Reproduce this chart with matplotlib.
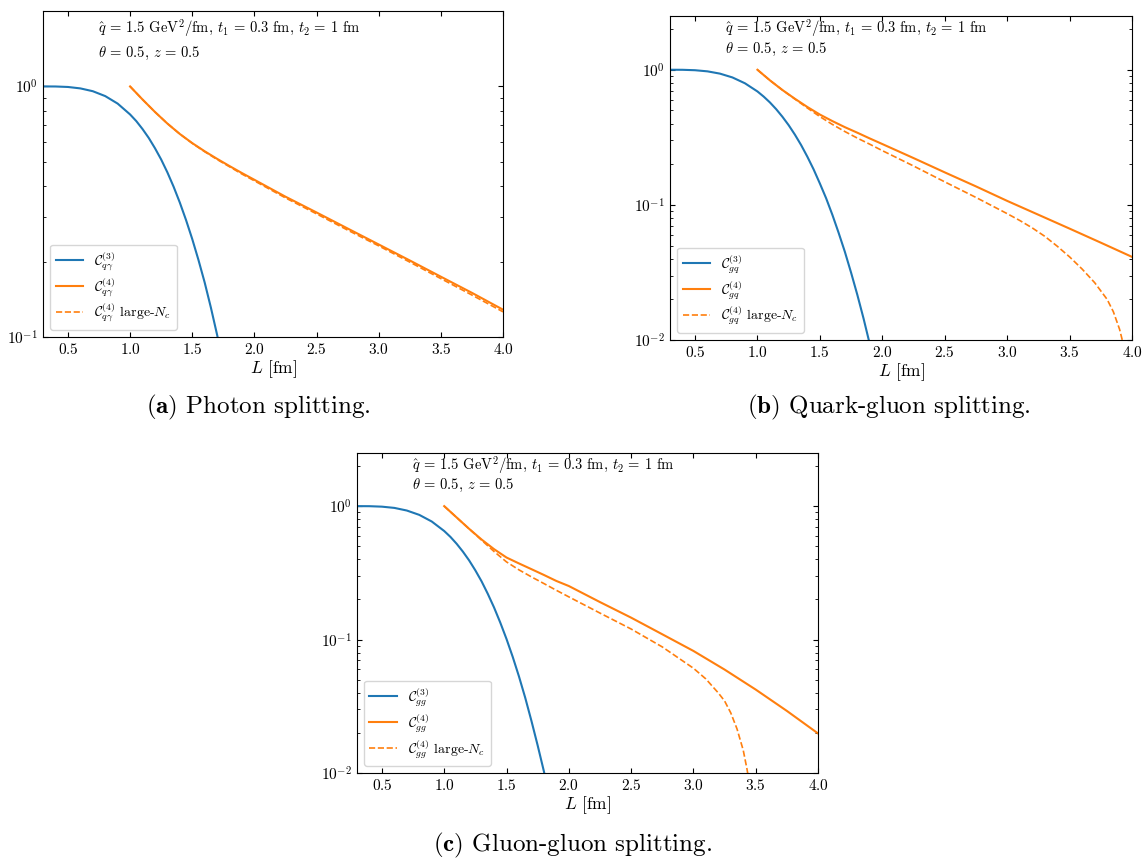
import numpy as np
import matplotlib
matplotlib.use("Agg")
import matplotlib.pyplot as plt
from matplotlib.ticker import LogLocator

plt.rcParams["font.family"] = "serif"
plt.rcParams["font.serif"] = ["cmr10"]
plt.rcParams["mathtext.fontset"] = "cm"
plt.rcParams["axes.formatter.use_mathtext"] = True
plt.rcParams["axes.unicode_minus"] = False

# --- three-point correlator C^(3) (blue) ---
L3 = [0.3, 0.4, 0.5, 0.6, 0.7, 0.8, 0.9, 1.0, 1.05, 1.1, 1.15, 1.2, 1.25, 1.3, 1.35,
      1.4, 1.45, 1.5, 1.55, 1.6, 1.65, 1.7, 1.75, 1.8, 1.85, 1.9]
C3_qgam = [1.0, 0.9994, 0.995, 0.982, 0.957, 0.915, 0.854, 0.773, 0.727, 0.676, 0.623,
           0.567, 0.511, 0.454, 0.398, 0.344, 0.293, 0.246, 0.203, 0.165, 0.131,
           0.102, 0.0783, 0.0588, 0.043, 0.031]
C3_gq = [1.0, 0.9991, 0.992, 0.973, 0.936, 0.877, 0.794, 0.691, 0.633, 0.573, 0.511,
         0.449, 0.389, 0.331, 0.277, 0.227, 0.183, 0.144, 0.112, 0.0845, 0.0622,
         0.045, 0.0315, 0.0216, 0.0144, 0.0093]
C3_gg = [1.0, 0.999, 0.991, 0.970, 0.927, 0.860, 0.767, 0.651, 0.588, 0.522, 0.456,
         0.392, 0.330, 0.273, 0.220, 0.174, 0.134, 0.101, 0.0741, 0.0529, 0.0367,
         0.0246, 0.0161, 0.0103, 0.0062, 0.0037]

# --- four-point correlator C^(4) (orange solid) ---
L4 = [1.0, 1.1, 1.2, 1.3, 1.4, 1.5, 1.6, 1.7, 1.8, 1.9, 2.0,
      2.25, 2.5, 2.75, 3.0, 3.25, 3.5, 3.75, 4.0]
C4_qgam = [1.0, 0.887, 0.791, 0.711, 0.646, 0.594, 0.551, 0.514, 0.481, 0.451, 0.424,
           0.363, 0.314, 0.271, 0.234, 0.202, 0.174, 0.150, 0.1285]
C4_gq = [1.0, 0.835, 0.708, 0.610, 0.530, 0.466, 0.417, 0.376, 0.342, 0.310, 0.282,
         0.222, 0.174, 0.137, 0.107, 0.0845, 0.0667, 0.0525, 0.0412]
C4_gg = [1.0, 0.822, 0.676, 0.562, 0.476, 0.412, 0.372, 0.337, 0.305, 0.275, 0.252,
         0.191, 0.146, 0.1096, 0.0822, 0.0596, 0.0422, 0.0292, 0.0198]

# --- large-Nc approximation (orange dashed) ---
LN_qgam = L4
CN_qgam = [1.0, 0.887, 0.791, 0.711, 0.646, 0.593, 0.549, 0.511, 0.478, 0.447, 0.420,
           0.359, 0.310, 0.267, 0.231, 0.199, 0.171, 0.147, 0.126]
LN_gq = [1.0, 1.1, 1.2, 1.3, 1.4, 1.5, 1.6, 1.7, 1.8, 1.9, 2.0, 2.25, 2.5, 2.75,
         3.0, 3.1, 3.2, 3.3, 3.4, 3.5, 3.6, 3.7, 3.8, 3.85, 3.9, 3.93]
CN_gq = [1.0, 0.835, 0.708, 0.607, 0.521, 0.450, 0.394, 0.349, 0.312, 0.281, 0.252,
         0.194, 0.148, 0.1135, 0.0861, 0.0767, 0.0676, 0.0586, 0.0495, 0.0412,
         0.0335, 0.0266, 0.0200, 0.0162, 0.0120, 0.0093]
LN_gg = [1.0, 1.1, 1.2, 1.3, 1.4, 1.5, 1.6, 1.7, 1.8, 1.9, 2.0, 2.25, 2.5, 2.75,
         3.0, 3.1, 3.2, 3.25, 3.3, 3.35, 3.4, 3.43, 3.45]
CN_gg = [1.0, 0.822, 0.676, 0.556, 0.457, 0.382, 0.333, 0.295, 0.263, 0.234, 0.209,
         0.158, 0.120, 0.0881, 0.0610, 0.0507, 0.0398, 0.0347, 0.0282, 0.0214,
         0.0148, 0.0107, 0.0083]

params_1 = r"$\hat{q}\,=\,1.5$ GeV$^2$/fm, $t_1\,=\,0.3$ fm, $t_2\,=\,1$ fm"
params_2 = r"$\theta\,=\,0.5$, $z\,=\,0.5$"

blue = "#1f77b4"
orange = "#ff7f0e"

fig = plt.figure(figsize=(11.42, 8.59), dpi=100)


def panel(rect, sub, c3, c4, cn, lnx, ylo, yhi, txt_y):
    ax = fig.add_axes(rect)
    ax.plot(L3, c3, color=blue, lw=1.5, label=r"$\mathcal{C}^{(3)}_{%s}$" % sub)
    ax.plot(L4, c4, color=orange, lw=1.5, label=r"$\mathcal{C}^{(4)}_{%s}$" % sub)
    ax.plot(lnx, cn, color=orange, lw=1.2, ls="--",
            label=r"$\mathcal{C}^{(4)}_{%s}$ large-$N_c$" % sub)
    ax.set_yscale("log")
    ax.set_xlim(0.3, 4.0)
    ax.set_ylim(ylo, yhi)
    ax.set_xticks([0.5, 1.0, 1.5, 2.0, 2.5, 3.0, 3.5, 4.0])
    ax.yaxis.set_major_locator(LogLocator(base=10))
    ax.tick_params(which="both", direction="in", top=True, right=True, labelsize=11)
    ax.set_xlabel(r"$L$ [fm]", fontsize=12.5, labelpad=1)
    ax.text(0.12, txt_y[0], params_1, transform=ax.transAxes, fontsize=10.5, va="center")
    ax.text(0.12, txt_y[1], params_2, transform=ax.transAxes, fontsize=10.5, va="center")
    ax.legend(loc="lower left", fontsize=10, handlelength=2.0, labelspacing=0.25)
    return ax


panel([0.0377, 0.6077, 0.4028, 0.3795], r"q\gamma", C3_qgam, C4_qgam, CN_qgam, LN_qgam,
      0.1, 2.0, (0.948, 0.87))
panel([0.5867, 0.6042, 0.4046, 0.3772], r"gq", C3_gq, C4_gq, CN_gq, LN_gq,
      0.01, 2.5, (0.963, 0.897))
panel([0.3126, 0.1001, 0.4037, 0.3725], r"gg", C3_gg, C4_gg, CN_gg, LN_gg,
      0.01, 2.5, (0.9625, 0.90))

fig.text(0.226, 0.526, r"$\mathbf{(a)}$ Photon splitting.", ha="center", va="center", fontsize=18)
fig.text(0.778, 0.526, r"$\mathbf{(b)}$ Quark-gluon splitting.", ha="center", va="center", fontsize=18)
fig.text(0.501, 0.016, r"$\mathbf{(c)}$ Gluon-gluon splitting.", ha="center", va="center", fontsize=18)

fig.savefig("out.png", dpi=100)
